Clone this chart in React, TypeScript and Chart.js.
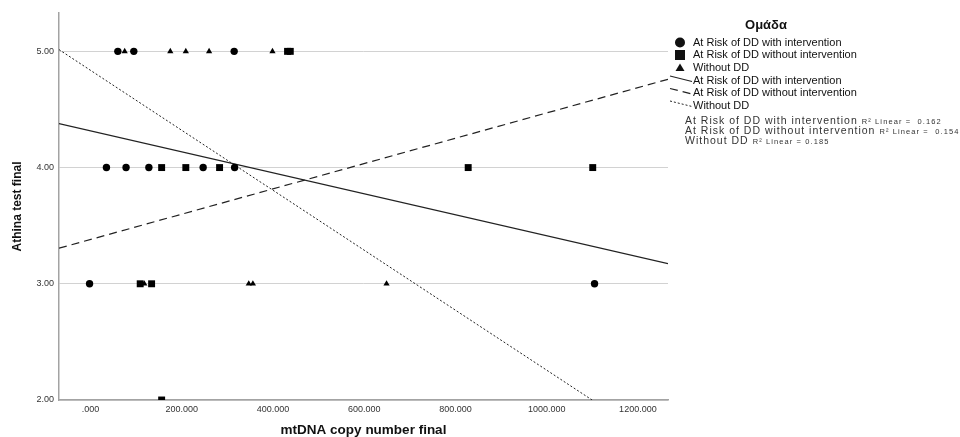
import React, { useEffect, useRef } from "react";
import { Chart, registerables } from "chart.js";

Chart.register(...registerables);

// ---------- data ----------
const groupNames = [
  "At Risk of DD with intervention",
  "At Risk of DD without intervention",
  "Without DD",
];
const legendTitle = "Ομάδα";
const xAxisTitle = "mtDNA copy number final";
const yAxisTitle = "Athina test final";

// At Risk of DD with intervention (circles)
const withInterventionX = [60, 95, 315, 35, 78, 128, 247, 316, -2, 1105];
const withInterventionY = [5, 5, 5, 4, 4, 4, 4, 4, 3, 3];

// At Risk of DD without intervention (squares)
const withoutInterventionX = [432, 438, 156, 209, 283, 828, 1101, 109, 134, 156];
const withoutInterventionY = [5, 5, 4, 4, 4, 4, 4, 3, 3, 2];

// Without DD (triangles)
const withoutDDX = [75, 175, 209, 260, 399, 118, 347, 356, 649];
const withoutDDY = [5, 5, 5, 5, 5, 3, 3, 3, 3];

// linear fit lines (intercept, slope) per group
const fitIntercepts = [4.316, 3.381, 4.837];
const fitSlopes = [-0.000903, 0.001089, -0.00258];
const rSquaredLabels = ["R² Linear =  0.162", "R² Linear =  0.154", "R² Linear = 0.185"];

const xTicks = [0, 200, 400, 600, 800, 1000, 1200];
const xTickLabels = [".000", "200.000", "400.000", "600.000", "800.000", "1000.000", "1200.000"];
const yTicks = [2, 3, 4, 5];
const yTickLabels = ["2.00", "3.00", "4.00", "5.00"];
const xMin = -69;
const xMax = 1266;
const yMin = 2;
const yMax = 5.33;

// ---------- styling ----------
const FONT = '"Liberation Sans", Arial, sans-serif';
const INK = "#111111";
const lineDashes: number[][] = [[], [8, 5], [2, 2]];

const toPoints = (xs: number[], ys: number[]) => xs.map((x, i) => ({ x, y: ys[i] }));
const fitLine = (g: number) => [
  { x: xMin, y: fitIntercepts[g] + fitSlopes[g] * xMin },
  { x: xMax, y: fitIntercepts[g] + fitSlopes[g] * xMax },
];

const overlayPlugin = {
  id: "overlayText",
  afterDraw(chart: any) {
    const ctx: CanvasRenderingContext2D = chart.ctx;
    const area = chart.chartArea;
    ctx.save();
    ctx.fillStyle = INK;
    ctx.textBaseline = "middle";

    // axis titles
    ctx.textAlign = "center";
    ctx.font = `bold 13.5px ${FONT}`;
    ctx.fillText(xAxisTitle, (area.left + area.right) / 2, 430);
    ctx.save();
    ctx.translate(18, (area.top + area.bottom) / 2);
    ctx.rotate(-Math.PI / 2);
    ctx.font = `bold 12px ${FONT}`;
    ctx.fillText(yAxisTitle, 0, 0);
    ctx.restore();

    // legend title
    ctx.font = `bold 13px ${FONT}`;
    ctx.fillText(legendTitle, 766, 25);

    // legend marker rows
    const mx = 680;
    const tx = 693;
    const rows = [42.5, 55, 67.5, 80.5, 93, 105.5];
    ctx.textAlign = "left";
    ctx.font = `11px ${FONT}`;
    // circle
    ctx.beginPath();
    ctx.arc(mx, rows[0], 5, 0, Math.PI * 2);
    ctx.fill();
    // square
    ctx.fillRect(mx - 5, rows[1] - 5, 10, 10);
    // triangle
    ctx.beginPath();
    ctx.moveTo(mx, rows[2] - 4);
    ctx.lineTo(mx + 4.5, rows[2] + 3.5);
    ctx.lineTo(mx - 4.5, rows[2] + 3.5);
    ctx.closePath();
    ctx.fill();
    for (let g = 0; g < 3; g++) {
      ctx.fillText(groupNames[g], tx, rows[g]);
    }
    // line samples
    ctx.strokeStyle = "#222";
    for (let g = 0; g < 3; g++) {
      const ry = rows[3 + g];
      ctx.beginPath();
      ctx.setLineDash(lineDashes[g]);
      ctx.lineWidth = g === 2 ? 1 : 1.2;
      ctx.moveTo(670, ry - 4.5);
      ctx.lineTo(692, ry + 1);
      ctx.stroke();
      ctx.fillText(groupNames[g], tx, ry);
    }
    ctx.setLineDash([]);

    // R² notes
    const rRows = [121, 131, 141];
    ctx.fillStyle = "#333";
    for (let g = 0; g < 3; g++) {
      (ctx as any).letterSpacing = "1px";
      ctx.font = `10.5px ${FONT}`;
      ctx.fillText(groupNames[g], 685, rRows[g]);
      const w = ctx.measureText(groupNames[g]).width;
      (ctx as any).letterSpacing = "1.1px";
      ctx.font = `7.5px ${FONT}`;
      ctx.fillText(rSquaredLabels[g], 685 + w + 4, rRows[g] + 0.5);
    }
    (ctx as any).letterSpacing = "0px";
    ctx.restore();
  },
};

export default function App() {
  const canvasRef = useRef<HTMLCanvasElement | null>(null);

  useEffect(() => {
    if (!canvasRef.current) return;
    const pointBase = {
      type: "scatter" as const,
      backgroundColor: "#000",
      borderColor: "#000",
      borderWidth: 0,
      showLine: false,
    };
    const lineBase = (g: number) => ({
      type: "scatter" as const,
      data: fitLine(g),
      showLine: true,
      borderColor: "#222",
      borderWidth: g === 2 ? 1 : 1.2,
      borderDash: lineDashes[g],
      pointRadius: 0,
      pointHoverRadius: 0,
      fill: false,
    });
    const chart = new Chart(canvasRef.current, {
      type: "scatter",
      data: {
        datasets: [
          { ...pointBase, label: groupNames[0], data: toPoints(withInterventionX, withInterventionY), pointStyle: "circle", pointRadius: 3.7 },
          { ...pointBase, label: groupNames[1], data: toPoints(withoutInterventionX, withoutInterventionY), pointStyle: "rect", pointRadius: 4.9 },
          { ...pointBase, label: groupNames[2], data: toPoints(withoutDDX, withoutDDY), pointStyle: "triangle", pointRadius: 3.6 },
          { ...lineBase(0), label: groupNames[0] + " fit" },
          { ...lineBase(1), label: groupNames[1] + " fit" },
          { ...lineBase(2), label: groupNames[2] + " fit" },
        ] as any,
      },
      options: {
        responsive: false,
        animation: false,
        events: [],
        layout: { padding: { left: 0, top: 13, right: 292, bottom: 0 } },
        plugins: {
          legend: { display: false },
          tooltip: { enabled: false },
          title: { display: false },
        },
        scales: {
          x: {
            type: "linear",
            min: xMin,
            max: xMax,
            afterBuildTicks: (s: any) => {
              s.ticks = xTicks.map((v) => ({ value: v }));
            },
            afterFit: (s: any) => {
              s.height = 37;
            },
            grid: { display: false, drawTicks: false },
            border: { display: true, color: "#a3a3a3", width: 1.5 },
            ticks: {
              padding: 4,
              autoSkip: false,
              maxRotation: 0,
              color: "#333",
              font: { family: FONT, size: 9 },
              callback: (_v: any, i: number) => xTickLabels[i],
            },
          },
          y: {
            type: "linear",
            min: yMin,
            max: yMax,
            afterBuildTicks: (s: any) => {
              s.ticks = yTicks.map((v) => ({ value: v }));
            },
            afterFit: (s: any) => {
              s.width = 59;
            },
            grid: { color: "#d2d2d2", lineWidth: 1, drawTicks: false },
            border: { display: true, color: "#a3a3a3", width: 1.5 },
            ticks: {
              padding: 5,
              color: "#333",
              font: { family: FONT, size: 9 },
              callback: (_v: any, i: number) => yTickLabels[i],
            },
          },
        },
      } as any,
      plugins: [overlayPlugin],
    });
    return () => chart.destroy();
  }, []);

  return (
    <div style={{ position: "fixed", left: 0, top: 0, width: 960, height: 437, background: "#fff" }}>
      <canvas ref={canvasRef} width={960} height={437} style={{ width: 960, height: 437, display: "block" }} />
    </div>
  );
}
